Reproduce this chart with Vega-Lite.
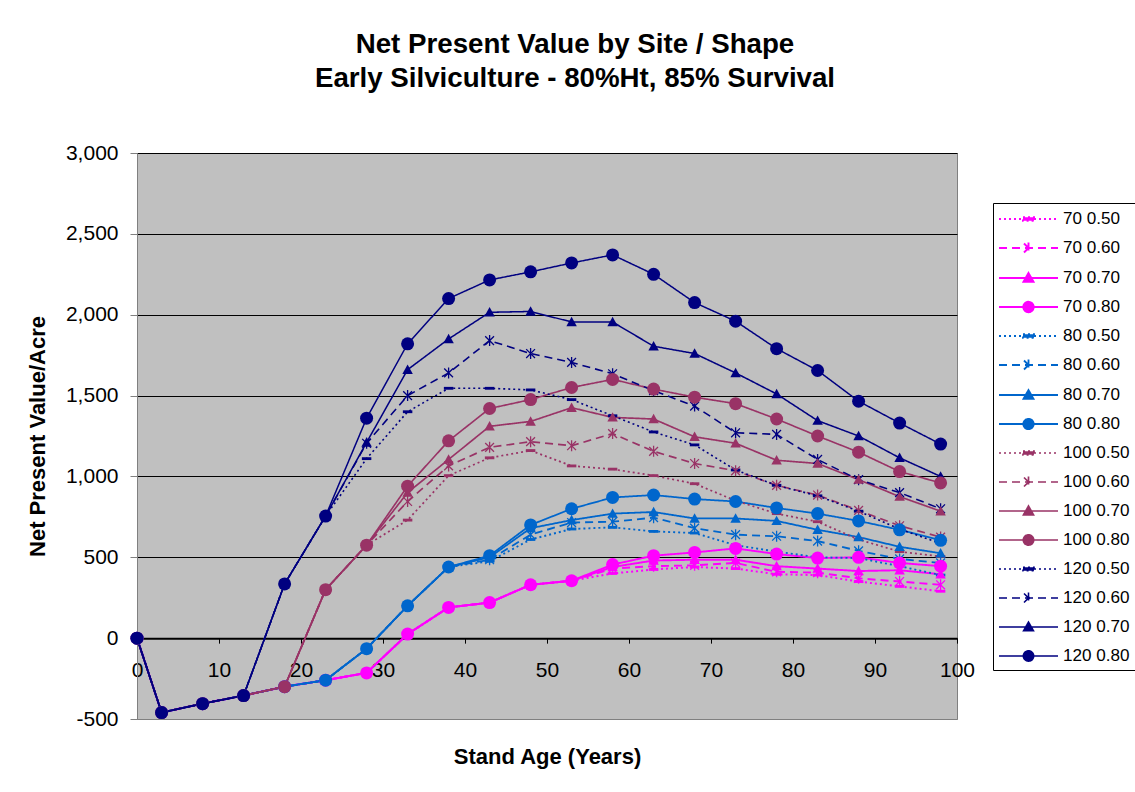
{
  "$schema": "https://vega.github.io/schema/vega-lite/v6.json",
  "width": 820,
  "height": 566,
  "autosize": {"type": "none"},
  "padding": {"left": 137, "top": 153, "right": 178, "bottom": 73},
  "background": "white",
  "config": {
    "font": "Liberation Sans",
    "view": {"fill": "#C0C0C0", "stroke": "#808080", "strokeWidth": 1},
    "legend": {
      "orient": "none",
      "legendX": 856,
      "legendY": 50,
      "columns": 1,
      "strokeColor": "black",
      "fillColor": "white",
      "padding": 5,
      "symbolSize": 400,
      "symbolOpacity": 1,
      "rowPadding": 9,
      "labelOffset": 43,
      "labelFont": "Liberation Sans",
      "labelFontSize": 17.1,
      "labelColor": "black",
      "labelLimit": 200
    }
  },
  "title": {
    "text": ["Net Present Value by Site / Shape", "Early Silviculture - 80%Ht, 85% Survival"],
    "font": "Liberation Sans",
    "fontSize": 27.7,
    "fontWeight": "bold",
    "lineHeight": 34,
    "color": "black",
    "anchor": "middle",
    "frame": "group",
    "dx": 28,
    "offset": 49
  },
  "data": {
    "values": [
      {"series": "70 0.50", "age": [0,3,8,13,18,23,28,33,38,43,48,53,58,63,68,73,78,83,88,93,98], "npv": [0,-460,-405,-355,-300,-260,-215,25,190,220,330,355,400,425,440,430,395,390,350,320,290]},
      {"series": "70 0.60", "age": [0,3,8,13,18,23,28,33,38,43,48,53,58,63,68,73,78,83,88,93,98], "npv": [0,-460,-405,-355,-300,-260,-215,25,190,220,330,355,430,445,450,465,410,405,370,350,330]},
      {"series": "70 0.70", "age": [0,3,8,13,18,23,28,33,38,43,48,53,58,63,68,73,78,83,88,93,98], "npv": [0,-460,-405,-355,-300,-260,-215,25,190,220,330,355,440,480,485,485,445,430,415,420,395]},
      {"series": "70 0.80", "age": [0,3,8,13,18,23,28,33,38,43,48,53,58,63,68,73,78,83,88,93,98], "npv": [0,-460,-405,-355,-300,-260,-215,25,190,220,330,355,455,510,530,555,520,495,500,465,445]},
      {"series": "80 0.50", "age": [0,3,8,13,18,23,28,33,38,43,48,53,58,63,68,73,78,83,88,93,98], "npv": [0,-460,-405,-355,-300,-260,-65,200,440,475,610,675,685,660,650,575,535,500,495,445,390]},
      {"series": "80 0.60", "age": [0,3,8,13,18,23,28,33,38,43,48,53,58,63,68,73,78,83,88,93,98], "npv": [0,-460,-405,-355,-300,-260,-65,200,440,485,640,715,720,745,680,640,630,600,540,490,465]},
      {"series": "80 0.70", "age": [0,3,8,13,18,23,28,33,38,43,48,53,58,63,68,73,78,83,88,93,98], "npv": [0,-460,-405,-355,-300,-260,-65,200,440,500,680,730,770,780,740,740,725,670,625,565,525]},
      {"series": "80 0.80", "age": [0,3,8,13,18,23,28,33,38,43,48,53,58,63,68,73,78,83,88,93,98], "npv": [0,-460,-405,-355,-300,-260,-65,200,440,510,700,800,870,885,860,845,805,770,725,670,605]},
      {"series": "100 0.50", "age": [0,3,8,13,18,23,28,33,38,43,48,53,58,63,68,73,78,83,88,93,98], "npv": [0,-460,-405,-355,-300,300,575,730,1005,1115,1160,1065,1045,1005,955,850,770,720,610,535,505]},
      {"series": "100 0.60", "age": [0,3,8,13,18,23,28,33,38,43,48,53,58,63,68,73,78,83,88,93,98], "npv": [0,-460,-405,-355,-300,300,575,845,1065,1180,1215,1190,1265,1155,1080,1035,945,885,790,695,625]},
      {"series": "100 0.70", "age": [0,3,8,13,18,23,28,33,38,43,48,53,58,63,68,73,78,83,88,93,98], "npv": [0,-460,-405,-355,-300,300,575,900,1105,1310,1340,1425,1365,1355,1245,1205,1100,1080,980,875,785]},
      {"series": "100 0.80", "age": [0,3,8,13,18,23,28,33,38,43,48,53,58,63,68,73,78,83,88,93,98], "npv": [0,-460,-405,-355,-300,300,575,940,1220,1420,1475,1550,1600,1540,1490,1450,1355,1250,1150,1030,960]},
      {"series": "120 0.50", "age": [0,3,8,13,18,23,28,33,38,43,48,53,58,63,68,73,78,83,88,93,98], "npv": [0,-460,-405,-355,335,755,1110,1400,1545,1545,1535,1475,1375,1275,1195,1040,945,880,785,675,585]},
      {"series": "120 0.60", "age": [0,3,8,13,18,23,28,33,38,43,48,53,58,63,68,73,78,83,88,93,98], "npv": [0,-460,-405,-355,335,755,1205,1500,1640,1840,1760,1705,1635,1530,1435,1270,1260,1105,980,900,800]},
      {"series": "120 0.70", "age": [0,3,8,13,18,23,28,33,38,43,48,53,58,63,68,73,78,83,88,93,98], "npv": [0,-460,-405,-355,335,755,1210,1660,1850,2015,2020,1955,1955,1805,1760,1640,1510,1345,1250,1115,1000]},
      {"series": "120 0.80", "age": [0,3,8,13,18,23,28,33,38,43,48,53,58,63,68,73,78,83,88,93,98], "npv": [0,-460,-405,-355,335,755,1360,1820,2100,2215,2265,2320,2370,2250,2075,1960,1790,1655,1465,1330,1200]}
    ]
  },
  "transform": [{"flatten": ["age", "npv"]}],
  "encoding": {
    "x": {
      "field": "age", "type": "quantitative",
      "scale": {"domain": [0, 100], "nice": false, "zero": false},
      "axis": {
        "orient": "bottom",
        "offset": {"expr": "scale('y', 0) - height"},
        "values": [0,10,20,30,40,50,60,70,80,90,100],
        "grid": false,
        "domainColor": "black", "domainWidth": 2,
        "tickColor": "black", "tickSize": 5, "tickWidth": 1,
        "labelFont": "Liberation Sans", "labelFontSize": 21, "labelColor": "black",
        "labelPadding": 16, "labelFlush": false, "labelOverlap": false,
        "title": "Stand Age (Years)",
        "titleFont": "Liberation Sans", "titleFontSize": 22, "titleFontWeight": "bold", "titleColor": "black",
        "titlePadding": 66
      }
    },
    "y": {
      "field": "npv", "type": "quantitative",
      "scale": {"domain": [-500, 3000], "nice": false, "zero": false},
      "axis": {
        "values": [-500,0,500,1000,1500,2000,2500,3000],
        "labelExpr": "datum.value < 0 ? '-' + format(-datum.value, ',.0f') : format(datum.value, ',.0f')",
        "grid": true,
        "gridColor": {"condition": {"test": "datum.value == -500", "value": "#808080"}, "value": "black"},
        "gridWidth": 1,
        "domainColor": "#808080", "domainWidth": 1,
        "tickColor": "#808080", "tickSize": 7,
        "labelFont": "Liberation Sans", "labelFontSize": 21, "labelColor": "black",
        "labelPadding": 12, "labelFlush": false,
        "title": "Net Present Value/Acre",
        "titleFont": "Liberation Sans", "titleFontSize": 22, "titleFontWeight": "bold", "titleColor": "black",
        "titlePadding": 16
      }
    }
  },
  "layer": [
    {
      "mark": {"type": "point", "filled": true, "opacity": 0},
      "encoding": {
        "color": {
          "field": "series", "type": "nominal", "legend": {"title": null},
          "scale": {
            "domain": ["70 0.50","70 0.60","70 0.70","70 0.80","80 0.50","80 0.60","80 0.70","80 0.80","100 0.50","100 0.60","100 0.70","100 0.80","120 0.50","120 0.60","120 0.70","120 0.80"],
            "range": ["#FF00FF","#FF00FF","#FF00FF","#FF00FF","#0066CC","#0066CC","#0066CC","#0066CC","#993366","#993366","#993366","#993366","#000080","#000080","#000080","#000080"]
          }
        },
        "stroke": {
          "field": "series", "type": "nominal", "legend": {"title": null},
          "scale": {
            "domain": ["70 0.50","70 0.60","70 0.70","70 0.80","80 0.50","80 0.60","80 0.70","80 0.80","100 0.50","100 0.60","100 0.70","100 0.80","120 0.50","120 0.60","120 0.70","120 0.80"],
            "range": ["#FF00FF","#FF00FF","#FF00FF","#FF00FF","#0066CC","#0066CC","#0066CC","#0066CC","#993366","#993366","#993366","#993366","#000080","#000080","#000080","#000080"]
          }
        },
        "strokeDash": {
          "field": "series", "type": "nominal", "legend": {"title": null},
          "scale": {
            "domain": ["70 0.50","70 0.60","70 0.70","70 0.80","80 0.50","80 0.60","80 0.70","80 0.80","100 0.50","100 0.60","100 0.70","100 0.80","120 0.50","120 0.60","120 0.70","120 0.80"],
            "range": [[2,3],[8,5],[1,0],[1,0],[2,3],[8,5],[1,0],[1,0],[2,3],[8,5],[1,0],[1,0],[2,3],[8,5],[1,0],[1,0]]
          }
        },
        "strokeWidth": {
          "field": "series", "type": "nominal", "legend": {"title": null},
          "scale": {
            "domain": ["70 0.50","70 0.60","70 0.70","70 0.80","80 0.50","80 0.60","80 0.70","80 0.80","100 0.50","100 0.60","100 0.70","100 0.80","120 0.50","120 0.60","120 0.70","120 0.80"],
            "range": [2,1.5,1,3,2,1.5,1,3,2,1.5,1,3,2,1.5,1,3]
          }
        },
        "shape": {
          "field": "series", "type": "nominal", "legend": {"title": null},
          "scale": {
            "domain": ["70 0.50","70 0.60","70 0.70","70 0.80","80 0.50","80 0.60","80 0.70","80 0.80","100 0.50","100 0.60","100 0.70","100 0.80","120 0.50","120 0.60","120 0.70","120 0.80"],
            "range": [
              "M-1,0H4.9M1.4,-0.18H2.5V0.18H1.4Z",
              "M-1,0H4.9M1.5,-0.45L2.4,0.45M1.5,0.45L2.4,-0.45M1.95,-0.55V0.55",
              "M-1,0H4.9M1.95,-0.5L2.45,0.38L1.45,0.38Z",
              "M-1,0H4.9M2.47,0A0.52,0.52,0,1,1,1.43,0A0.52,0.52,0,1,1,2.47,0Z",
              "M-1,0H4.9M1.4,-0.18H2.5V0.18H1.4Z",
              "M-1,0H4.9M1.5,-0.45L2.4,0.45M1.5,0.45L2.4,-0.45M1.95,-0.55V0.55",
              "M-1,0H4.9M1.95,-0.5L2.45,0.38L1.45,0.38Z",
              "M-1,0H4.9M2.47,0A0.52,0.52,0,1,1,1.43,0A0.52,0.52,0,1,1,2.47,0Z",
              "M-1,0H4.9M1.4,-0.18H2.5V0.18H1.4Z",
              "M-1,0H4.9M1.5,-0.45L2.4,0.45M1.5,0.45L2.4,-0.45M1.95,-0.55V0.55",
              "M-1,0H4.9M1.95,-0.5L2.45,0.38L1.45,0.38Z",
              "M-1,0H4.9M2.47,0A0.52,0.52,0,1,1,1.43,0A0.52,0.52,0,1,1,2.47,0Z",
              "M-1,0H4.9M1.4,-0.18H2.5V0.18H1.4Z",
              "M-1,0H4.9M1.5,-0.45L2.4,0.45M1.5,0.45L2.4,-0.45M1.95,-0.55V0.55",
              "M-1,0H4.9M1.95,-0.5L2.45,0.38L1.45,0.38Z",
              "M-1,0H4.9M2.47,0A0.52,0.52,0,1,1,1.43,0A0.52,0.52,0,1,1,2.47,0Z"
            ]
          }
        }
      }
    },
    {
      "mark": {"type": "line", "strokeCap": "butt", "strokeJoin": "round"},
      "encoding": {
        "color": {"field": "series", "type": "nominal", "legend": null},
        "strokeDash": {"field": "series", "type": "nominal", "legend": null},
        "strokeWidth": {"field": "series", "type": "nominal", "legend": null}
      }
    },
    {
      "transform": [{"filter": "slice(datum.series,-4) == '0.50'"}],
      "mark": {"type": "point", "filled": true, "opacity": 1, "shape": "M-1,-0.3H1V0.3H-1Z", "size": 90},
      "encoding": {"color": {"field": "series", "type": "nominal", "legend": null}}
    },
    {
      "transform": [{"filter": "slice(datum.series,-4) == '0.60'"}],
      "mark": {"type": "point", "filled": false, "opacity": 1, "strokeWidth": 1.3, "shape": "M-0.8,-0.8L0.8,0.8M-0.8,0.8L0.8,-0.8M0,-1V1", "size": 121},
      "encoding": {"color": {"field": "series", "type": "nominal", "legend": null}}
    },
    {
      "transform": [{"filter": "slice(datum.series,-4) == '0.70'"}],
      "mark": {"type": "point", "filled": true, "opacity": 1, "shape": "M0,-1L1,0.8L-1,0.8Z", "size": 110},
      "encoding": {"color": {"field": "series", "type": "nominal", "legend": null}}
    },
    {
      "transform": [{"filter": "slice(datum.series,-4) == '0.80'"}],
      "mark": {"type": "point", "filled": true, "opacity": 1, "shape": "circle", "size": 169},
      "encoding": {"color": {"field": "series", "type": "nominal", "legend": null}}
    }
  ]
}
